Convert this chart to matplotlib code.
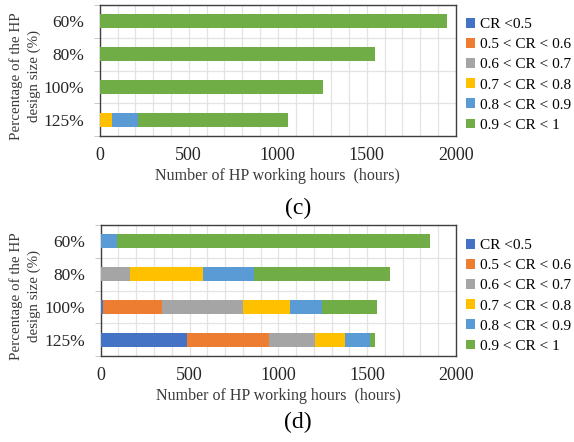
import matplotlib.pyplot as plt
import numpy as np

plt.rcParams['font.family'] = ['Liberation Serif', 'DejaVu Serif']

sizes = ['60%', '80%', '100%', '125%']
labels = ['CR <0.5', '0.5 < CR < 0.6', '0.6 < CR < 0.7',
          '0.7 < CR < 0.8', '0.8 < CR < 0.9', '0.9 < CR < 1']
colors = ['#4472C4', '#ED7D31', '#A5A5A5', '#FFC000', '#5B9BD5', '#70AD47']

# hours per CR band, rows = sizes (60, 80, 100, 125 %)
hours_c = [
    [0, 0, 0, 0, 0, 1949],
    [0, 0, 0, 0, 0, 1545],
    [0, 0, 0, 0, 0, 1256],
    [0, 0, 0, 71, 142, 843],
]
hours_d = [
    [0, 0, 0, 0, 93, 1763],
    [0, 0, 163, 411, 289, 765],
    [11, 332, 458, 264, 179, 309],
    [487, 462, 257, 167, 144, 25],
]

W, H = 574, 442
fig = plt.figure(figsize=(W / 100, H / 100), dpi=100)


def panel(rect, data, tag, tag_y, leg_top):
    ax = fig.add_axes(rect)
    data = np.array(data)
    y = np.arange(len(sizes))
    left = np.zeros(len(sizes))
    for k in range(len(labels)):
        ax.barh(y, data[:, k], left=left, height=0.43, color=colors[k],
                label=labels[k], zorder=3)
        left += data[:, k]
    ax.set_xlim(0, 2000)
    ax.set_ylim(len(sizes) - 0.5, -0.5)
    ax.set_yticks(y)
    ax.set_yticklabels(sizes, fontsize=12.5)
    ax.set_yticks(np.arange(len(sizes) + 1) - 0.5, minor=True)
    ax.tick_params(axis='y', which='major', length=0, pad=11)
    ax.tick_params(axis='y', which='minor', length=4, color='#BFBFBF')
    ax.set_xticks(np.arange(0, 2001, 500))
    ax.set_xticks(np.arange(0, 2001, 100), minor=True)
    ax.tick_params(axis='x', which='both', length=0, labelsize=13, pad=8,
                   labelcolor='#262626')
    ax.tick_params(axis='y', labelcolor='#262626')
    ax.grid(axis='x', which='both', color='#E3E3E3', lw=0.9, zorder=0)
    ax.grid(axis='y', which='minor', color='#E3E3E3', lw=0.9, zorder=0)
    for s in ax.spines.values():
        s.set_color('#404040')
        s.set_linewidth(1.0)
    ax.set_xlabel('Number of HP working hours  (hours)', fontsize=11.5,
                  color='#3A3A3A', labelpad=3)
    ax.set_ylabel('Percentage of the HP\ndesign size (%)', fontsize=10.8,
                  color='#3A3A3A', linespacing=1.5, va='center')
    ax.yaxis.set_label_coords((25 - rect[0] * W) / (rect[2] * W), 0.46)
    handles, labs = ax.get_legend_handles_labels()
    fig.legend(handles, labs, loc='upper left',
               bbox_to_anchor=(466 / W, 1 - leg_top / H),
               frameon=False, fontsize=11, handlelength=0.6, handleheight=0.6,
               handletextpad=0.3, labelspacing=0.45, borderaxespad=0,
               borderpad=0)
    fig.text(298 / W, 1 - tag_y / H, tag, fontsize=17, ha='center', va='center')
    return ax


panel([99.7 / W, (H - 136) / H, 356 / W, 131 / H], hours_c, '(c)', 208, 18)
panel([100.7 / W, (H - 356) / H, 355.3 / W, 131 / H], hours_d, '(d)', 422, 239)

fig.savefig('out.png', dpi=100)
